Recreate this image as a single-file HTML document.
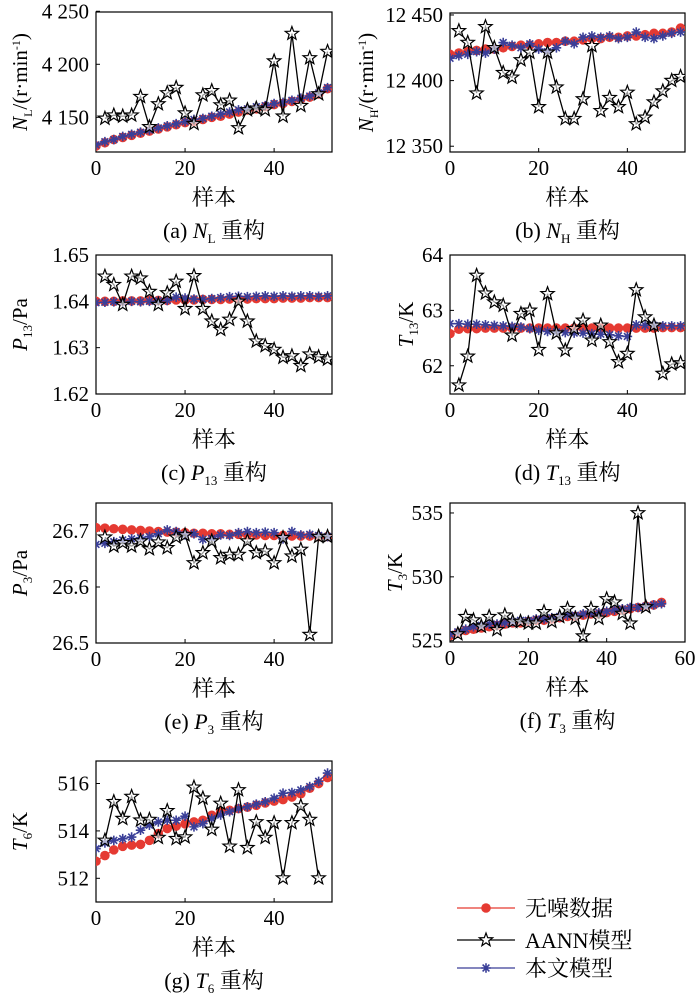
<!DOCTYPE html>
<html><head><meta charset="utf-8">
<style>
html,body{margin:0;padding:0;background:#fff;}
svg{display:block;}
svg text{font-family:"Liberation Serif","Noto Serif CJK SC","Noto Sans CJK SC",serif;}
</style></head>
<body>
<svg id="chart" width="700" height="997" viewBox="0 0 700 997" xmlns="http://www.w3.org/2000/svg"></svg>
<script>
// ---------- shared sample indices ----------
const xRB = [0,2,4,6,8,10,12,14,16,18,20,22,24,26,28,30,32,34,36,38,40,42,44,46,48,50,52];
const xRB54 = [0,2,4,6,8,10,12,14,16,18,20,22,24,26,28,30,32,34,36,38,40,42,44,46,48,50,52,54];
const xA26 = [2,4,6,8,10,12,14,16,18,20,22,24,26,28,30,32,34,36,38,40,42,44,46,48,50,52];
const xA25 = [2,4,6,8,10,12,14,16,18,20,22,24,26,28,30,32,34,36,38,40,42,44,46,48,50];
const xTicks = [0,20,40];
const xTicksF = [0,20,40,60];

// ---------- (a) N_L ----------
const aRed = [4123,4126,4129,4131,4133,4135,4137,4139,4141,4143,4145,4146,4148,4150,4151,4153,4155,4157,4158,4160,4162,4163,4165,4167,4169,4172,4177];
const aBlue = [4124,4127,4129,4132,4134,4136,4138,4140,4142,4144,4146,4148,4149,4151,4153,4155,4157,4158,4160,4161,4163,4164,4166,4168,4170,4173,4178];
const aAnn = [4149,4152,4151,4152,4169.5,4141,4162.6,4173,4178,4154,4144,4171,4175,4161.6,4166,4140,4157,4158.5,4157,4203,4151,4229,4161,4206,4172,4212];
const aYT = [4150,4200,4250];
const aYL = ["4 150","4 200","4 250"];
// ---------- (b) N_H ----------
const bRed = [12420,12421,12422,12423,12424,12424,12425,12426,12427,12427,12428,12429,12429,12430,12430,12431,12432,12432,12433,12433,12434,12434,12435,12436,12436,12437,12440];
const bBlue = [12417,12419,12420,12422,12421,12424,12429,12427,12425,12428,12424,12422,12425,12430,12428,12433,12434,12433,12434,12432,12433,12437,12433,12432,12434,12436,12437];
const bAnn = [12437.9,12429,12390.4,12441,12425,12406,12402.5,12415.7,12421.5,12380,12421.5,12395,12371,12371,12386,12426.5,12377,12387,12380,12391,12367,12372,12383.6,12392,12400,12403];
const bYT = [12350,12400,12450];
const bYL = ["12 350","12 400","12 450"];
// ---------- (c) P13 ----------
const cRed = [1.6400,1.6400,1.6400,1.6401,1.6401,1.6401,1.6402,1.6402,1.6402,1.6403,1.6403,1.6403,1.6404,1.6404,1.6404,1.6405,1.6405,1.6405,1.6406,1.6406,1.6406,1.6407,1.6407,1.6407,1.6408,1.6408,1.6408];
const cBlue = [1.6397,1.6398,1.6399,1.6398,1.6400,1.6399,1.6400,1.6401,1.6402,1.6409,1.6407,1.6405,1.6404,1.6406,1.6408,1.6410,1.6411,1.6410,1.6411,1.6412,1.6411,1.6412,1.6411,1.6412,1.6412,1.6411,1.6412];
const cAnn = [1.6454,1.6436,1.6393,1.6454,1.6450,1.6421,1.6393,1.6418,1.6443,1.6384,1.6455,1.6384,1.6357,1.6339,1.6361,1.6400,1.6357,1.6314,1.6304,1.6296,1.6279,1.6282,1.6261,1.6286,1.6280,1.6275];
const cYT = [1.62,1.63,1.64,1.65];
const cYL = ["1.62","1.63","1.64","1.65"];
// ---------- (d) T13 ----------
const dRed = [62.58,62.66,62.67,62.67,62.68,62.68,62.68,62.68,62.68,62.68,62.68,62.68,62.68,62.68,62.68,62.68,62.68,62.68,62.68,62.68,62.68,62.68,62.68,62.68,62.69,62.69,62.69];
const dBlue = [62.76,62.76,62.75,62.75,62.74,62.73,62.72,62.71,62.70,62.67,62.64,62.62,62.61,62.60,62.59,62.59,62.58,62.57,62.56,62.54,62.53,62.74,62.73,62.73,62.72,62.72,62.72];
const dAnn = [61.65,62.17,63.63,63.31,63.15,63.09,62.55,62.94,63.00,62.29,63.30,62.59,62.28,62.67,62.82,62.46,62.73,62.43,62.07,62.22,63.37,62.88,62.73,61.86,62.03,62.05];
const dYT = [62,63,64];
const dYL = ["62","63","64"];
// ---------- (e) P3 ----------
const eRed = [26.706,26.705,26.704,26.703,26.702,26.701,26.700,26.699,26.698,26.698,26.697,26.696,26.696,26.695,26.695,26.694,26.694,26.693,26.693,26.692,26.692,26.692,26.691,26.691,26.691,26.690,26.690];
const eBlue = [26.676,26.678,26.681,26.684,26.686,26.688,26.690,26.695,26.702,26.699,26.693,26.695,26.685,26.687,26.693,26.692,26.697,26.699,26.697,26.698,26.697,26.686,26.699,26.693,26.694,26.692,26.690];
const eAnn = [26.689,26.673,26.679,26.673,26.682,26.668,26.680,26.670,26.689,26.693,26.643,26.661,26.682,26.652,26.658,26.658,26.682,26.661,26.664,26.643,26.688,26.655,26.667,26.515,26.690,26.690];
const eYT = [26.5,26.6,26.7];
const eYL = ["26.5","26.6","26.7"];
// ---------- (f) T3 ----------
const fRed = [525.4,525.6,525.8,525.9,526.0,526.1,526.2,526.3,526.4,526.4,526.5,526.6,526.6,526.7,526.8,526.9,526.9,527.0,527.1,527.1,527.2,527.3,527.4,527.5,527.6,527.7,527.8,528.0];
const fBlue = [525.5,525.7,525.9,526.1,526.2,526.3,526.3,526.4,526.5,526.6,526.6,526.7,526.7,526.8,526.9,527.0,527.0,527.1,527.2,527.2,527.3,527.4,527.5,527.6,527.6,527.7,527.8,527.9];
const fAnn = [525.53,526.88,526.62,526.12,526.88,525.86,527.0,526.5,526.5,526.37,526.37,527.26,526.5,526.88,527.51,526.75,525.36,527.51,526.75,528.27,528.02,527.13,526.37,535.0,527.64];
const fYT = [525,530,535];
const fYL = ["525","530","535"];
// ---------- (g) T6 ----------
const gRed = [512.72,512.96,513.2,513.35,513.4,513.43,513.6,513.89,514.1,514.2,514.3,514.38,514.45,514.66,514.8,514.87,514.94,515.0,515.08,515.18,515.26,515.32,515.43,515.57,515.8,516.0,516.25];
const gBlue = [513.25,513.49,513.6,513.67,513.74,514.03,514.24,514.38,514.45,514.45,514.62,514.17,514.31,514.52,514.67,514.81,514.95,515.02,515.13,515.23,515.38,515.59,515.62,515.73,515.87,516.09,516.44];
const gAnn = [513.60,515.23,514.52,515.45,514.45,514.48,513.72,514.85,513.67,513.74,515.84,515.38,514.06,515.16,513.35,515.73,513.29,514.38,513.72,514.34,512.01,514.34,515.05,514.48,512.01];
const gYT = [512,514,516];
const gYL = ["512","514","516"];

const NS = "http://www.w3.org/2000/svg";
const FONT = '"Liberation Serif","Noto Serif CJK SC","Noto Sans CJK SC",serif';
const svg = document.getElementById("chart");
const RED = "#e53a32", BLUE = "#3a3f98";
function mk(tag, attrs, parent){
  const e = document.createElementNS(NS, tag);
  for (const k in attrs) e.setAttribute(k, attrs[k]);
  if (tag === "text") e.setAttribute("font-family", FONT);
  (parent||svg).appendChild(e);
  return e;
}
function starPath(cx, cy, R, r){
  let d = "";
  for (let i=0;i<10;i++){
    const rad = (i%2===0)?R:r;
    const a = -Math.PI/2 + i*Math.PI/5;
    d += (i===0?"M":"L") + (cx+rad*Math.cos(a)).toFixed(2) + "," + (cy+rad*Math.sin(a)).toFixed(2);
  }
  return d + "Z";
}
function asterisk(g, cx, cy, R){
  let d = "";
  for (let i=0;i<4;i++){
    const a = i*Math.PI/4;
    d += "M"+(cx-R*Math.cos(a)).toFixed(2)+","+(cy-R*Math.sin(a)).toFixed(2)+"L"+(cx+R*Math.cos(a)).toFixed(2)+","+(cy+R*Math.sin(a)).toFixed(2);
  }
  const p = mk("path", {d:d, stroke:BLUE, "stroke-width":1.6, fill:"none"}, g);
  
  
}

function addRichText(parent, attrs, parts){
  const t = mk("text", attrs, parent);
  parts.forEach(p => {
    const s = document.createElementNS(NS, "tspan");
    s.textContent = p.t;
    if (p.i) s.setAttribute("font-style","italic");
    if (p.sub){ s.setAttribute("font-size", p.fs||13); s.setAttribute("dy", p.sub); }
    if (p.back){ s.setAttribute("dy", p.back); }
    t.appendChild(s);
  });
  return t;
}

function plot(c){
  const g = mk("g", {});
  
  
  const sx = v => c.x0 + (v - c.xd[0])/(c.xd[1]-c.xd[0])*(c.x1-c.x0);
  const sy = v => c.y1 - (v - c.yd[0])/(c.yd[1]-c.yd[0])*(c.y1-c.y0);
  const clip = "clip-" + c.name;
  const cp = mk("clipPath", {id:clip}, g);
  mk("rect", {x:c.x0, y:c.y0, width:c.x1-c.x0, height:c.y1-c.y0}, cp);
  const frame = mk("rect", {x:c.x0, y:c.y0, width:c.x1-c.x0, height:c.y1-c.y0, fill:"none", stroke:"#000", "stroke-width":1.2}, g);
  
  
  c.xt.forEach(v => {
    const x = sx(v);
    const tk = mk("line", {x1:x, x2:x, y1:c.y1, y2:c.y1-4, stroke:"#000", "stroke-width":1}, g);
    
    
    const tl = mk("text", {x:x, y:c.y1+23, "text-anchor":"middle", "font-size":21}, g);
    tl.textContent = String(v);
    
    
  });
  c.yt.forEach((v,i) => {
    const y = sy(v);
    const tk = mk("line", {x1:c.x0, x2:c.x0+4, y1:y, y2:y, stroke:"#000", "stroke-width":1}, g);
    
    
    const tl = mk("text", {x:c.x0-7, y:y+7, "text-anchor":"end", "font-size":21}, g);
    tl.textContent = c.yl[i];
    
    
  });
  const xc = (c.x0+c.x1)/2;
  const xl = mk("text", {x:xc, y:c.y1+53, "text-anchor":"middle", "font-size":22}, g);
  xl.textContent = "样本";
  
  
  const yl = addRichText(g, {transform:"translate("+c.ylx+","+((c.y0+c.y1)/2)+") rotate(-90)", "text-anchor":"middle", "font-size":21}, c.ylabel);
  
  
  const cap = addRichText(g, {x:xc, y:c.y1+86, "text-anchor":"middle", "font-size":22}, c.caption);
  
  

  const dg = mk("g", {"clip-path":"url(#"+clip+")"}, g);
  const rp = c.redX.map((x,i)=>sx(x).toFixed(2)+","+sy(c.red[i]).toFixed(2)).join(" ");
  const rl = mk("polyline", {points:rp, fill:"none", stroke:RED, "stroke-width":1.2}, dg);
  
  
  c.redX.forEach((x,i)=>{
    const m = mk("circle", {cx:sx(x), cy:sy(c.red[i]), r:4.8, fill:RED}, dg);
    
    
  });
  const bp = c.blueX.map((x,i)=>sx(x).toFixed(2)+","+sy(c.blue[i]).toFixed(2)).join(" ");
  const bl = mk("polyline", {points:bp, fill:"none", stroke:BLUE, "stroke-width":1.2}, dg);
  
  
  c.blueX.forEach((x,i)=>{ asterisk(dg, sx(x), sy(c.blue[i]), 4.8); });
  const ap = c.annX.map((x,i)=>sx(x).toFixed(2)+","+sy(c.ann[i]).toFixed(2)).join(" ");
  const al = mk("polyline", {points:ap, fill:"none", stroke:"#000", "stroke-width":1.3}, dg);
  
  
  c.annX.forEach((x,i)=>{
    const s = mk("path", {d:starPath(sx(x), sy(c.ann[i]), 7, 2.9), fill:"#fff", "fill-opacity":0.6, stroke:"#000", "stroke-width":1.2}, dg);
    
    
  });
}

const L = {x0:96, x1:332}, R = {x0:450, x1:685};
plot({name:"subplot-a-nl", x0:L.x0, x1:L.x1, y0:12, y1:152, xd:[0,53], yd:[4117.3,4249.3], xt:xTicks, yt:aYT, yl:aYL,
  red:aRed, redX:xRB, blue:aBlue, blueX:xRB, ann:aAnn, annX:xA26, ylx:27,
  ylabel:[{t:"N",i:1},{t:"L",sub:5,fs:12},{t:"/(r·min",back:-5},{t:"-1",sub:-7,fs:12},{t:")",back:7}],
  caption:[{t:"(a) "},{t:"N",i:1},{t:"L",sub:5,fs:13},{t:" 重构",back:-5}]});
plot({name:"subplot-b-nh", x0:R.x0, x1:R.x1, y0:13, y1:152, xd:[0,53], yd:[12345.6,12451.5], xt:xTicks, yt:bYT, yl:bYL,
  red:bRed, redX:xRB, blue:bBlue, blueX:xRB, ann:bAnn, annX:xA26, ylx:373,
  ylabel:[{t:"N",i:1},{t:"H",sub:5,fs:12},{t:"/(r·min",back:-5},{t:"-1",sub:-7,fs:12},{t:")",back:7}],
  caption:[{t:"(b) "},{t:"N",i:1},{t:"H",sub:5,fs:13},{t:" 重构",back:-5}]});
plot({name:"subplot-c-p13", x0:L.x0, x1:L.x1, y0:255, y1:394, xd:[0,53], yd:[1.62,1.65], xt:xTicks, yt:cYT, yl:cYL,
  red:cRed, redX:xRB, blue:cBlue, blueX:xRB, ann:cAnn, annX:xA26, ylx:27,
  ylabel:[{t:"P",i:1},{t:"13",sub:5,fs:13},{t:"/Pa",back:-5}],
  caption:[{t:"(c) "},{t:"P",i:1},{t:"13",sub:5,fs:13},{t:" 重构",back:-5}]});
plot({name:"subplot-d-t13", x0:R.x0, x1:R.x1, y0:255, y1:394, xd:[0,53], yd:[61.49,64], xt:xTicks, yt:dYT, yl:dYL,
  red:dRed, redX:xRB, blue:dBlue, blueX:xRB, ann:dAnn, annX:xA26, ylx:413,
  ylabel:[{t:"T",i:1},{t:"13",sub:5,fs:13},{t:"/K",back:-5}],
  caption:[{t:"(d) "},{t:"T",i:1},{t:"13",sub:5,fs:13},{t:" 重构",back:-5}]});
plot({name:"subplot-e-p3", x0:L.x0, x1:L.x1, y0:503, y1:643, xd:[0,53], yd:[26.5,26.75], xt:xTicks, yt:eYT, yl:eYL,
  red:eRed, redX:xRB, blue:eBlue, blueX:xRB, ann:eAnn, annX:xA26, ylx:27,
  ylabel:[{t:"P",i:1},{t:"3",sub:5,fs:13},{t:"/Pa",back:-5}],
  caption:[{t:"(e) "},{t:"P",i:1},{t:"3",sub:5,fs:13},{t:" 重构",back:-5}]});
plot({name:"subplot-f-t3", x0:R.x0, x1:R.x1, y0:503, y1:642, xd:[0,60], yd:[524.9,535.78], xt:xTicksF, yt:fYT, yl:fYL,
  red:fRed, redX:xRB54, blue:fBlue, blueX:xRB54, ann:fAnn, annX:xA25, ylx:402,
  ylabel:[{t:"T",i:1},{t:"3",sub:5,fs:13},{t:"/K",back:-5}],
  caption:[{t:"(f) "},{t:"T",i:1},{t:"3",sub:5,fs:13},{t:" 重构",back:-5}]});
plot({name:"subplot-g-t6", x0:L.x0, x1:L.x1, y0:761, y1:902, xd:[0,53], yd:[511.0,516.95], xt:xTicks, yt:gYT, yl:gYL,
  red:gRed, redX:xRB, blue:gBlue, blueX:xRB, ann:gAnn, annX:xA25, ylx:27,
  ylabel:[{t:"T",i:1},{t:"6",sub:5,fs:13},{t:"/K",back:-5}],
  caption:[{t:"(g) "},{t:"T",i:1},{t:"6",sub:5,fs:13},{t:" 重构",back:-5}]});

// ---------- legend ----------
const lg = mk("g", {});


const e1 = mk("line", {x1:457, x2:515, y1:908, y2:908, stroke:RED, "stroke-width":1.3}, lg);


const e1m = mk("circle", {cx:486, cy:908, r:4.8, fill:RED}, lg);


const t1 = mk("text", {x:525, y:916, "font-size":22}, lg);
t1.textContent = "无噪数据";


const e2 = mk("line", {x1:457, x2:515, y1:940, y2:940, stroke:"#000", "stroke-width":1.3}, lg);


const e2m = mk("path", {d:starPath(486, 940, 7, 2.9), fill:"#fff", stroke:"#000", "stroke-width":1.2}, lg);


const t2 = mk("text", {x:525, y:948, "font-size":22}, lg);
t2.textContent = "AANN模型";


const e3 = mk("line", {x1:457, x2:515, y1:968, y2:968, stroke:BLUE, "stroke-width":1.3}, lg);


asterisk(lg, 486, 968, 4.8);
const t3 = mk("text", {x:525, y:976, "font-size":22}, lg);
t3.textContent = "本文模型";


</script>
</body></html>
